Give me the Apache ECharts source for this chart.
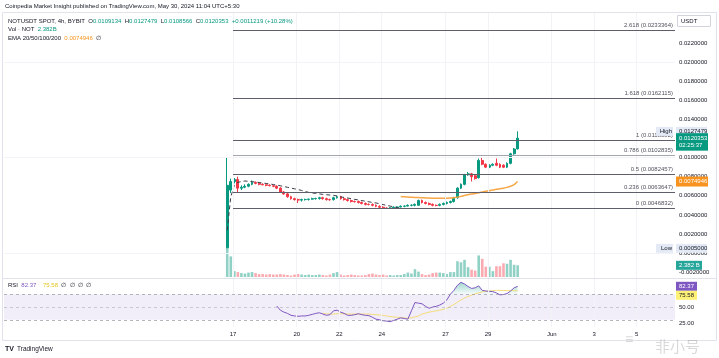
<!DOCTYPE html>
<html><head><meta charset="utf-8">
<script src="https://cdn.jsdelivr.net/npm/echarts@6/dist/echarts.min.js"></script>
<style>html,body{margin:0;padding:0;background:#fff;}#c{width:719px;height:358px;}</style>
</head><body><div id="c"></div>
<script>
// ---- DATA ----
// 4h candles, first candle opens May 16 17:30 (UTC+5:30); x unit = day of May (Jun 1 = 32)
const FIRST_DAY = 16 + 17.5 / 24;
const STEP_DAY = 4 / 24;
// [open, close, low, high]
const candles = [
  [0.00055,0.0071,0.0005,0.0100],[0.0066,0.0075,0.0063,0.0078],[0.0075,0.0077,0.0073,0.00786],[0.0077,0.0068,0.0064,0.0080],
  [0.0068,0.0069,0.0066,0.0071],[0.0069,0.0070,0.0068,0.0072],[0.0070,0.0072,0.0069,0.0073],[0.0072,0.0074,0.0071,0.0076],
  [0.0074,0.0073,0.0072,0.0075],[0.0073,0.0072,0.0071,0.0074],[0.0072,0.00715,0.0071,0.0073],[0.00715,0.0071,0.0070,0.0072],
  [0.0071,0.00705,0.0070,0.0072],[0.00705,0.0070,0.0069,0.0071],[0.0070,0.0068,0.0067,0.0071],[0.0068,0.0064,0.0063,0.0069],
  [0.0064,0.0062,0.0061,0.0065],[0.0062,0.0059,0.0058,0.0063],[0.0059,0.0057,0.0056,0.0060],[0.0057,0.0056,0.0055,0.0058],
  [0.0056,0.00555,0.00525,0.0057],[0.00555,0.0056,0.0054,0.0057],[0.0056,0.00562,0.0055,0.0057],[0.00562,0.00565,0.0055,0.0057],
  [0.00565,0.0057,0.0056,0.0058],[0.0057,0.00572,0.0056,0.0058],[0.00572,0.0058,0.0056,0.0059],[0.0058,0.0057,0.0056,0.0059],
  [0.0057,0.0056,0.0055,0.0058],[0.0056,0.00558,0.0055,0.0057],[0.0056,0.0058,0.0055,0.0059],[0.0058,0.0059,0.0057,0.0060],
  [0.0059,0.0057,0.0056,0.0060],[0.0057,0.0056,0.0055,0.0058],[0.0056,0.0055,0.0054,0.0057],[0.0055,0.0054,0.0053,0.0056],
  [0.0054,0.00538,0.0053,0.0055],[0.0054,0.0053,0.0052,0.0055],[0.0053,0.0052,0.0051,0.0054],[0.0052,0.0051,0.0050,0.0053],
  [0.0051,0.00508,0.0050,0.0052],[0.0051,0.0050,0.0049,0.0052],[0.0050,0.0049,0.0048,0.0051],[0.0049,0.0048,0.0047,0.0050],
  [0.0048,0.0047,0.00468,0.0049],[0.0047,0.00469,0.00468,0.0048],[0.0047,0.00472,0.00468,0.0048],[0.00472,0.0048,0.0047,0.0049],
  [0.0048,0.00482,0.0047,0.0049],[0.00482,0.0049,0.0048,0.0050],[0.0049,0.00492,0.0048,0.0050],[0.00492,0.0050,0.0049,0.0051],
  [0.0050,0.00502,0.0049,0.0051],[0.0050,0.0051,0.0049,0.0052],[0.0050,0.0055,0.0050,0.0056],[0.0055,0.0053,0.0052,0.0056],
  [0.0053,0.0052,0.0051,0.0054],[0.0052,0.0051,0.0050,0.0053],[0.0051,0.0050,0.0049,0.0052],[0.0050,0.00498,0.0049,0.0051],
  [0.0050,0.0051,0.0049,0.0052],[0.0051,0.0052,0.0050,0.0053],[0.0052,0.0053,0.0051,0.0054],[0.0053,0.0054,0.0052,0.0055],
  [0.0054,0.0058,0.0053,0.0059],[0.0058,0.0068,0.0057,0.0069],[0.0068,0.0072,0.0067,0.0073],[0.0072,0.0082,0.0071,0.0083],
  [0.0082,0.0083,0.0081,0.0085],[0.0083,0.0080,0.0075,0.0084],[0.0081,0.0078,0.0077,0.0082],[0.0079,0.0097,0.0078,0.0099],
  [0.0097,0.0093,0.0092,0.0100],[0.0093,0.0090,0.0089,0.0094],[0.0090,0.0092,0.0089,0.0093],[0.0092,0.0093,0.0091,0.0094],
  [0.0094,0.0092,0.0091,0.0099],[0.0093,0.0090,0.0089,0.0094],[0.0092,0.0090,0.0089,0.0093],[0.0090,0.0094,0.0089,0.0095],
  [0.0094,0.0104,0.0093,0.0105],[0.0104,0.0109,0.0103,0.0110],[0.0109134,0.0120353,0.0108566,0.0127479]
];
// volume in billions
const volumes = [5.85,4.2,1.2,1.0,0.8,0.7,0.9,1.0,0.8,0.6,0.6,0.5,0.6,0.5,0.5,0.6,0.5,0.4,0.3,0.5,
  0.6,0.5,0.4,0.5,0.4,0.4,0.5,0.4,0.3,0.5,0.8,1.0,0.5,0.3,0.4,0.5,0.4,0.3,0.3,0.4,
  0.6,0.7,0.5,0.4,0.5,0.3,0.4,0.3,0.4,0.4,0.6,0.9,0.7,1.6,1.1,0.6,0.4,0.5,0.8,0.9,
  0.9,0.8,0.6,1.0,1.0,3.2,3.0,3.5,2.0,1.5,1.3,4.4,3.7,2.1,2.1,1.2,2.2,2.2,2.8,2.7,
  3.5,2.5,2.382];
const RSI_START = 14;
const rsi = [51.5,45,42,40,37,36,35.5,36,36,37,38.5,40,41,39,37,38,44,45,42,40,37,37,38,39.5,38,37,36.5,34,31,30,
  28.5,28,27,29,31,33,32,31,44,57,56,55,51,48,50,51,53,56,61,70,76,84,88.5,86,82,79,80,83,76,75,
  74.5,74,72,69,69.5,71,75,80,82.37];
const RSI_MA_START = 27;
const rsiMA = [40,39.5,39,39,39.5,39.5,39.5,39,39,39,39,39,39,39,38.5,38,37.5,37,36,35,34.5,34,33.5,33,32.5,33,34.5,36,
  39,40.5,42,43,44,45,46.5,48,51,54,57.5,61,64,66.5,68.5,70.5,72,73.5,74.5,75,75.5,76,76,75.8,75.6,75.5,75.5,75.58];
const EMA_START = 49;
const ema50 = [0.00592,0.00589,0.00587,0.00585,0.00583,0.00582,0.00580,0.00578,0.00576,0.00575,0.00574,0.00574,0.00574,
  0.00575,0.00577,0.00580,0.00586,0.00594,0.00603,0.00611,0.00618,0.00624,0.00632,0.00640,0.00647,0.00654,0.00661,
  0.00668,0.00674,0.00680,0.00688,0.00700,0.00718,0.0074946];
const trendDash = [0.0024,0.0059,0.0071,0.0074,0.0075,0.00755,0.00752,0.00748,0.00744,0.00739,0.00734,0.00729,0.00724,
  0.00718,0.00712,0.00705,0.00697,0.00689,0.00681,0.00673,0.00665,0.00656,0.00645,0.00636,0.0063,0.00625,0.0062,
  0.00615,0.00611,0.00608,0.00605,0.00598,0.0059,0.00582,0.00577,0.0057,0.00563,0.00557,0.0055,0.00543,0.00537,
  0.0053,0.00525,0.00517,0.00508,0.005,0.00492,0.00484,0.00476,0.0047];
const fibLevels = ['2.618','1.618','1','0.786','0.5','0.236','0'];
const fibPrices = [0.0233364,0.0162115,0.0118082,0.0102835,0.0082457,0.0063647,0.0046832];
const FIB_START = 17.0;
const timeTicks = [17,20,22,24,27,29,32,34,36];
const timeLabels = ['17','20','22','24','27','29','Jun','3','5'];
const priceTicks = [-0.002,0,0.002,0.004,0.006,0.008,0.010,0.012,0.014,0.016,0.018,0.020,0.022,0.024];
const rsiTicks = [25,50];
const RSI_UPPER = 70, RSI_MID = 50, RSI_LOWER = 30;
const lastPrice = 0.0120353, highPrice = 0.0127479, lowPrice = 0.0005, emaLast = 0.0074946;
const lastVol = 2.382, rsiLast = 82.37, rsiMALast = 75.58;

// ---- CHART ----
const UP = '#089981', DOWN = '#f23645';
const X_MIN = 6.224, X_MAX = 37.8;
const FONT = 'Liberation Sans, Arial, sans-serif';
const tx = i => FIRST_DAY + i * STEP_DAY;
const chart = echarts.init(document.getElementById('c'));
const gridCommon = {left: 4, right: 44};
const xAxes = [0,1,2].map(g => ({
  type: 'value', gridIndex: g, min: X_MIN, max: X_MAX,
  axisLine: {show: false}, axisTick: {show: false}, splitLine: {show: false},
  axisLabel: g === 2 ? {show: true, customValues: timeTicks, margin: 4, fontSize: 6, color: '#131722', fontFamily: FONT,
    formatter: v => timeLabels[timeTicks.indexOf(v)] ?? ''} : {show: false}
}));
const option = {
  animation: false,
  backgroundColor: '#ffffff',
  grid: [
    {...gridCommon, top: 13, height: 265},
    {...gridCommon, top: 240, height: 37},
    {...gridCommon, top: 279, height: 48}
  ],
  xAxis: xAxes,
  yAxis: [
    {type: 'value', gridIndex: 0, position: 'right', min: -0.0026073, max: 0.0251414, splitLine: {show: false},
     axisLine: {show: false}, axisTick: {show: false},
     axisLabel: {customValues: priceTicks, margin: 4, fontSize: 6, color: '#131722', fontFamily: FONT, formatter: v => v.toFixed(7)}},
    {type: 'value', gridIndex: 1, min: 0, max: 7.54, show: false},
    {type: 'value', gridIndex: 2, position: 'right', min: 18.75, max: 93.75, splitLine: {show: false},
     axisLine: {show: false}, axisTick: {show: false},
     axisLabel: {customValues: rsiTicks, margin: 4, fontSize: 6, color: '#131722', fontFamily: FONT, formatter: v => v.toFixed(2)}}
  ],
  series: [
    // faint grid lines, main pane
    {type: 'line', xAxisIndex: 0, yAxisIndex: 0, data: [], z: 0, silent: true,
     markLine: {silent: true, symbol: 'none', label: {show: false}, animation: false,
       lineStyle: {color: '#f2f3f7', width: 1, type: 'solid'},
       data: [...priceTicks.map(v => ({yAxis: v})), ...timeTicks.map(v => ({xAxis: v}))]}},
    // faint grid lines, RSI pane
    {type: 'line', xAxisIndex: 2, yAxisIndex: 2, data: [], z: 0, silent: true,
     markLine: {silent: true, symbol: 'none', label: {show: false}, animation: false,
       lineStyle: {color: '#f2f3f7', width: 1, type: 'solid'},
       data: timeTicks.map(v => ({xAxis: v}))}},
    // fibonacci retracement
    {type: 'line', xAxisIndex: 0, yAxisIndex: 0, data: [], z: 1, silent: true,
     markLine: {silent: true, symbol: 'none', animation: false,
       label: {show: true, position: 'insideEndTop', formatter: '{b}', fontSize: 6, color: '#50535e', fontFamily: FONT, distance: [2, 2]},
       data: fibLevels.map((lv, k) => [
         {name: lv + ' (' + fibPrices[k].toFixed(7) + ')', coord: [FIB_START, fibPrices[k]],
          lineStyle: {color: lv === '0.786' ? '#a3a6af' : '#5d606b', width: 1, type: 'solid'}},
         {coord: [X_MAX, fibPrices[k]]}
       ])}},
    // volume
    {type: 'bar', xAxisIndex: 1, yAxisIndex: 1, barWidth: 2.6, z: 1, silent: true,
     data: volumes.map((v, i) => ({value: [tx(i), v],
       itemStyle: {color: candles[i][1] >= candles[i][0] ? 'rgba(8,153,129,0.45)' : 'rgba(242,54,69,0.42)'}}))},
    // candles
    {type: 'candlestick', xAxisIndex: 0, yAxisIndex: 0, barWidth: 2.4, z: 3, silent: true,
     itemStyle: {color: UP, color0: DOWN, borderColor: UP, borderColor0: DOWN, borderWidth: 1},
     data: candles.map((c, i) => [tx(i), c[0], c[1], c[2], c[3]])},
    // dashed EMA-like line
    {type: 'line', xAxisIndex: 0, yAxisIndex: 0, symbol: 'none', z: 4, silent: true,
     lineStyle: {color: '#3a3d47', width: 1, type: [4, 3]},
     data: trendDash.map((v, i) => [tx(i), v])},
    // EMA 50 orange
    {type: 'line', xAxisIndex: 0, yAxisIndex: 0, symbol: 'none', z: 4, silent: true, smooth: 0.3,
     lineStyle: {color: '#f7a747', width: 1.5},
     data: ema50.map((v, k) => [tx(EMA_START + k), v])},
    // RSI overbought fill (area above the 70 band line)
    {type: 'line', xAxisIndex: 2, yAxisIndex: 2, symbol: 'none', silent: true, z: 2,
     lineStyle: {width: 0, opacity: 0},
     areaStyle: {origin: RSI_UPPER, color: new echarts.graphic.LinearGradient(0, 0, 0, 1, [
       {offset: 0, color: 'rgba(8,153,129,0.55)'}, {offset: 1, color: 'rgba(8,153,129,0.05)'}])},
     data: rsi.map((v, k) => [tx(RSI_START + k), Math.max(RSI_UPPER, v)])},
    // RSI line
    {type: 'line', xAxisIndex: 2, yAxisIndex: 2, symbol: 'none', z: 4, silent: true,
     lineStyle: {color: '#7e57c2', width: 1},
     data: rsi.map((v, k) => [tx(RSI_START + k), v]),
     markArea: {silent: true, itemStyle: {color: 'rgba(126,87,194,0.1)'}, data: [[{yAxis: RSI_UPPER}, {yAxis: RSI_LOWER}]]},
     markLine: {silent: true, symbol: 'none', label: {show: false}, animation: false,
       lineStyle: {color: '#9598a1', width: 1, type: [3, 3], opacity: 0.7},
       data: [{yAxis: RSI_UPPER}, {yAxis: RSI_MID, lineStyle: {opacity: 0.45}}, {yAxis: RSI_LOWER}]}},
    // RSI MA
    {type: 'line', xAxisIndex: 2, yAxisIndex: 2, symbol: 'none', z: 3, silent: true,
     lineStyle: {color: '#f3dc7a', width: 1},
     data: rsiMA.map((v, k) => [tx(RSI_MA_START + k), v])}
  ]
};
chart.setOption(option);

// ---- overlay texts (positioned through the chart's scales) ----
const py = v => chart.convertToPixel({yAxisIndex: 0}, v);
const pv = v => chart.convertToPixel({yAxisIndex: 1}, v);
const pr = v => chart.convertToPixel({yAxisIndex: 2}, v);
const txt = (x, y, text, fill, extra) => Object.assign({type: 'text', z: 120, silent: true,
  style: Object.assign({x, y, text, fill, font: '6px ' + FONT, textVerticalAlign: 'middle'}, extra || {})});
const box = (x, y, w, h, fill, stroke) => ({type: 'rect', z: 110, silent: true,
  shape: {x, y, width: w, height: h}, style: {fill, stroke: stroke || null, lineWidth: 1}});
const rich = {
  d: {fill: '#131722', font: '6px ' + FONT},
  g: {fill: '#089981', font: '6px ' + FONT},
  o: {fill: '#f7931e', font: '6px ' + FONT},
  p: {fill: '#7e57c2', font: '6px ' + FONT},
  y: {fill: '#e6c620', font: '6px ' + FONT}
};
const fmt = v => v.toFixed(7);
const yLast = py(lastPrice), yHigh = py(highPrice), yLow = py(lowPrice), yEma = py(emaLast);
const yVol = pv(lastVol), yRsi = pr(rsiLast);
const graphics = [
  // frame lines
  {type: 'rect', z: 0, silent: true, shape: {x: 2.5, y: 12.5, width: 714, height: 328}, style: {fill: null, stroke: '#e0e3eb', lineWidth: 1}},
  {type: 'line', z: 0, silent: true, shape: {x1: 2.5, y1: 278.5, x2: 716.5, y2: 278.5}, style: {stroke: '#e0e3eb', lineWidth: 1}},
  // header
  txt(5, 6.5, 'Coinpedia Market Insight published on TradingView.com, May 30, 2024 11:04 UTC+5:30', '#131722'),
  {type: 'text', z: 120, silent: true, style: {x: 8, y: 21, textVerticalAlign: 'middle',
    text: '{d|NOTUSDT SPOT, 4h, BYBIT  O}{g|' + fmt(candles[82][0]) + '} {d|H}{g|' + fmt(highPrice) + '} {d|L}{g|' + fmt(candles[82][2]) +
      '} {d|C}{g|' + fmt(lastPrice) + '} {g|+0.0011219 (+10.28%)}', rich}},
  {type: 'text', z: 120, silent: true, style: {x: 8, y: 29.5, textVerticalAlign: 'middle',
    text: '{d|Vol · NOT  }{g|' + lastVol + 'B}', rich}},
  {type: 'text', z: 120, silent: true, style: {x: 8, y: 38, textVerticalAlign: 'middle',
    text: '{d|EMA 20/50/100/200  }{o|' + fmt(emaLast) + '}{d|  ∅}', rich}},
  {type: 'text', z: 120, silent: true, style: {x: 8, y: 285, textVerticalAlign: 'middle',
    text: '{d|RSI  }{p|' + rsiLast.toFixed(2) + '}  {y|' + rsiMALast.toFixed(2) + '}{d|  ∅  ∅  ∅  ∅}', rich}},
  // USDT box
  box(677.5, 15.5, 33, 11, '#ffffff', '#d1d4dc'),
  txt(681, 21, 'USDT', '#131722'),
  // High
  box(656, yHigh - 4.5, 17, 9, '#e3eaf5'),
  txt(672, yHigh, 'High', '#131722', {textAlign: 'right'}),
  box(676, yHigh - 4.5, 31, 9, '#e3eaf5'),
  txt(679, yHigh, fmt(highPrice), '#131722'),
  // last price
  box(676, yLast - 5, 32, 17.5, '#089981'),
  txt(679, yLast, fmt(lastPrice), '#ffffff'),
  txt(679, yLast + 7.5, '02:25:37', '#ffffff'),
  // EMA value
  box(676, yEma - 5, 32, 10, '#f7931e'),
  txt(679, yEma, fmt(emaLast), '#ffffff'),
  // Low
  box(656, yLow - 4.5, 17, 9, '#e3eaf5'),
  txt(672, yLow, 'Low', '#131722', {textAlign: 'right'}),
  box(676, yLow - 4.5, 31, 9, '#e3eaf5'),
  txt(679, yLow, fmt(lowPrice), '#131722'),
  // volume last
  box(676, yVol - 4.5, 26, 9, '#26a69a'),
  txt(679, yVol, lastVol.toFixed(3) + ' B', '#ffffff'),
  // RSI values
  box(676, yRsi - 4.5, 21, 9, '#7e57c2'),
  txt(679, yRsi, rsiLast.toFixed(2), '#ffffff'),
  box(676, yRsi + 4.5, 21, 9, '#fff176'),
  txt(679, yRsi + 9, rsiMALast.toFixed(2), '#131722'),
  // footer
  txt(5, 349, 'TV', '#131722', {font: 'bold 7px ' + FONT}),
  txt(17, 349, 'TradingView', '#131722', {font: '6.5px ' + FONT}),
  // watermark
  txt(655, 346, '非小号', 'rgba(120,120,120,0.28)', {font: '15px Noto Sans CJK SC'}),
  txt(625, 340, '≡', 'rgba(120,120,120,0.28)', {font: '14px ' + FONT})
];
chart.setOption({graphic: graphics});
</script>
</body></html>
